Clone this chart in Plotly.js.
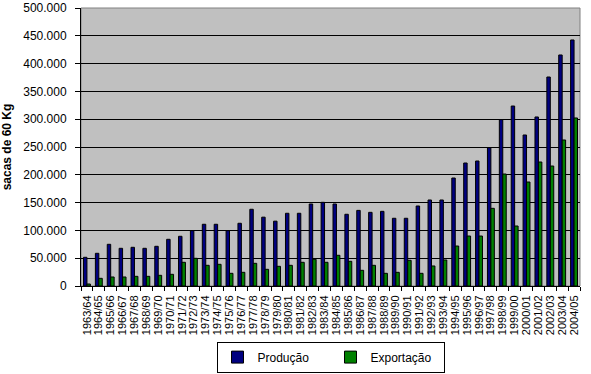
<!DOCTYPE html>
<html>
<head>
<meta charset="utf-8">
<script src="https://cdn.plot.ly/plotly-3.0.1.min.js"></script>
<style>html,body{margin:0;padding:0;background:#fff;}#chart{width:591px;height:374px;}</style>
</head>
<body>
<div id="chart"></div>
<script>
var safras = ["1963/64","1964/65","1965/66","1966/67","1967/68","1968/69","1969/70","1970/71","1971/72","1972/73","1973/74","1974/75","1975/76","1976/77","1977/78","1978/79","1979/80","1980/81","1981/82","1982/83","1983/84","1984/85","1985/86","1986/87","1987/88","1988/89","1989/90","1990/91","1991/92","1992/93","1993/94","1994/95","1995/96","1996/97","1997/98","1998/99","1999/00","2000/01","2001/02","2002/03","2003/04","2004/05"];
var producao = [51600,58800,75000,67800,69600,67800,71400,84000,89400,99500,111000,111000,99500,112800,138000,123800,116600,130800,130800,147500,150500,147500,129000,136000,132500,134300,121800,121800,143900,154700,154700,194200,221200,224800,248800,299200,323700,271600,304000,375900,415500,442500];
var exportacao = [3600,13800,16200,16200,17400,17400,19200,21000,42600,49800,37200,39000,22800,24600,40800,30000,35400,37200,42600,48000,42600,55200,44400,28200,37200,22800,24600,46200,22800,36000,46800,71900,89900,89900,139700,201400,107900,187000,223000,215800,262600,302200];
var yTicks = [0,50000,100000,150000,200000,250000,300000,350000,400000,450000,500000];

var font = "Liberation Sans, Arial, sans-serif";
var data = [
  {type:"bar", name:"Produção", x:safras, y:producao,
   marker:{color:"#000080", line:{color:"#000000", width:1}}},
  {type:"bar", name:"Exportação", x:safras, y:exportacao,
   marker:{color:"#008000", line:{color:"#000000", width:1}}}
];
var layout = {
  width:591, height:374,
  margin:{l:81, r:11, t:8, b:88, autoexpand:false},
  paper_bgcolor:"#ffffff", plot_bgcolor:"#c0c0c0",
  separators:",.",
  barmode:"group", bargap:0.42, bargroupgap:0,
  font:{family:font, size:12, color:"#000"},
  showlegend:true,
  legend:{orientation:"h", x:0.5, xanchor:"center", y:-0.2, yanchor:"top",
    bordercolor:"#000", borderwidth:1, bgcolor:"#fff",
    font:{family:font, size:12, color:"#000"}, entrywidth:68, itemwidth:20,
    traceorder:"normal"},
  xaxis:{type:"category", tickmode:"linear", dtick:1, tick0:0, tickangle:-90,
    tickfont:{family:font, size:11}, ticklabelstandoff:4,
    ticks:"outside", tickson:"boundaries", ticklen:4, tickcolor:"#000",
    showline:true, linecolor:"#000", linewidth:1, showgrid:false, mirror:false,
    automargin:false},
  yaxis:{range:[0,500000], tickvals:yTicks, tickformat:",d",
    tickfont:{family:font, size:12}, ticks:"outside", ticklen:5, tickcolor:"#000",
    ticklabelstandoff:6,
    showline:true, linecolor:"#000", linewidth:1,
    showgrid:true, gridcolor:"#000", gridwidth:1, zeroline:false,
    title:{text:"sacas de 60 Kg", font:{family:font, size:12, color:"#000", weight:"bold"}, standoff:12},
    automargin:false}
};
layout.shapes = [{type:"rect", xref:"paper", yref:"paper", x0:0, x1:1, y0:0, y1:1,
  line:{color:"#808080", width:1}, fillcolor:"rgba(0,0,0,0)", layer:"below"}];
Plotly.newPlot("chart", data, layout, {displayModeBar:false, staticPlot:true});
</script>
</body>
</html>
